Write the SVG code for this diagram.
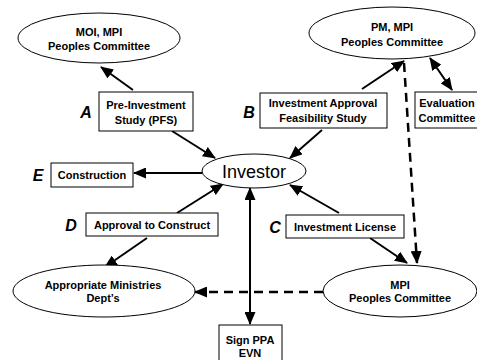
<svg xmlns="http://www.w3.org/2000/svg" width="477" height="360" viewBox="0 0 477 360">
<style>
.n{fill:#fff;stroke:#000;stroke-width:1}
.t{font-family:"Liberation Sans",Arial,sans-serif;font-weight:bold;font-size:11px;fill:#000;text-anchor:middle}
.L{font-family:"Liberation Sans",Arial,sans-serif;font-weight:bold;font-style:italic;font-size:16px;fill:#000;text-anchor:middle}
.c{stroke:#000;fill:none;stroke-width:2}
.d{stroke:#000;fill:none;stroke-width:2.5;stroke-dasharray:9,6}
</style>
<defs>
<marker id="ah" markerUnits="userSpaceOnUse" markerWidth="13" markerHeight="11" refX="12" refY="5.5" orient="auto"><path d="M0,0 L13,5.5 L0,11 z" fill="#000"/></marker>
<marker id="as" markerUnits="userSpaceOnUse" markerWidth="13" markerHeight="11" refX="1" refY="5.5" orient="auto"><path d="M13,0 L0,5.5 L13,11 z" fill="#000"/></marker>
</defs>
<rect width="477" height="360" fill="#fff"/>
<g id="connectors">
<line class="c" x1="133" y1="90" x2="101" y2="67" marker-end="url(#ah)"/>
<line class="c" x1="172" y1="131" x2="215" y2="158" marker-end="url(#ah)"/>
<line class="c" x1="362" y1="89" x2="404" y2="61" marker-end="url(#ah)"/>
<line class="c" x1="322" y1="130" x2="290" y2="158" marker-end="url(#ah)"/>
<line class="c" x1="430" y1="58" x2="452" y2="90" marker-start="url(#as)" marker-end="url(#ah)"/>
<line class="c" x1="202" y1="173" x2="134" y2="173" stroke-width="3.5" marker-end="url(#ah)"/>
<line class="c" x1="177" y1="213" x2="223" y2="184" marker-end="url(#ah)"/>
<line class="c" x1="147" y1="238" x2="105" y2="267" marker-end="url(#ah)"/>
<line class="c" x1="339" y1="213" x2="290" y2="185" marker-end="url(#ah)"/>
<line class="c" x1="370" y1="238" x2="407" y2="263" marker-end="url(#ah)"/>
<line class="c" x1="250" y1="188" x2="250" y2="324" stroke-width="3" marker-start="url(#as)" marker-end="url(#ah)"/>
<line class="d" x1="404" y1="63" x2="417" y2="263" marker-end="url(#ah)"/>
<line class="d" x1="323" y1="292" x2="195" y2="292" marker-end="url(#ah)"/>
</g>
<g id="moi"><ellipse class="n" cx="99" cy="38" rx="81" ry="25"/><text class="t" x="99" y="36">MOI, MPI</text><text class="t" x="99" y="50">Peoples Committee</text></g>
<g id="pm"><ellipse class="n" cx="392" cy="33" rx="83" ry="26"/><text class="t" x="392" y="31">PM, MPI</text><text class="t" x="392" y="46">Peoples Committee</text></g>
<g id="pfs"><rect class="n" x="99" y="92" width="94" height="39"/><text class="t" x="146" y="109">Pre-Investment</text><text class="t" x="146" y="124">Study (PFS)</text><text class="L" x="86" y="118">A</text></g>
<g id="iafs"><rect class="n" x="260" y="93" width="127" height="35"/><text class="t" x="323" y="107">Investment Approval</text><text class="t" x="323" y="122">Feasibility Study</text><text class="L" x="249" y="118">B</text></g>
<g id="eval"><rect class="n" x="415" y="92" width="75" height="36"/><text class="t" x="447" y="107">Evaluation</text><text class="t" x="447" y="122">Committee</text></g>
<g id="investor"><ellipse class="n" cx="254" cy="171" rx="52" ry="17"/><text x="254" y="178" font-family="Liberation Sans,Arial,sans-serif" font-size="18" text-anchor="middle">Investor</text></g>
<g id="construction"><rect class="n" x="51" y="163" width="82" height="24"/><text class="t" x="92" y="179">Construction</text><text class="L" x="38" y="181">E</text></g>
<g id="approval"><rect class="n" x="86" y="213" width="132" height="23"/><text class="t" x="152" y="229">Approval to Construct</text><text class="L" x="71" y="231">D</text></g>
<g id="license"><rect class="n" x="286" y="215" width="118" height="23"/><text class="t" x="345" y="231">Investment License</text><text class="L" x="275" y="233">C</text></g>
<g id="ministries"><ellipse class="n" cx="104" cy="291" rx="91" ry="26"/><text class="t" x="103" y="289">Appropriate Ministries</text><text class="t" x="103" y="302">Dept’s</text></g>
<g id="mpi"><ellipse class="n" cx="400" cy="291" rx="77" ry="26"/><text class="t" x="400" y="289">MPI</text><text class="t" x="400" y="302">Peoples Committee</text></g>
<g id="ppa"><rect class="n" x="219" y="325" width="63" height="40"/><text class="t" x="250" y="344">Sign PPA</text><text class="t" x="250" y="357">EVN</text></g>
</svg>
